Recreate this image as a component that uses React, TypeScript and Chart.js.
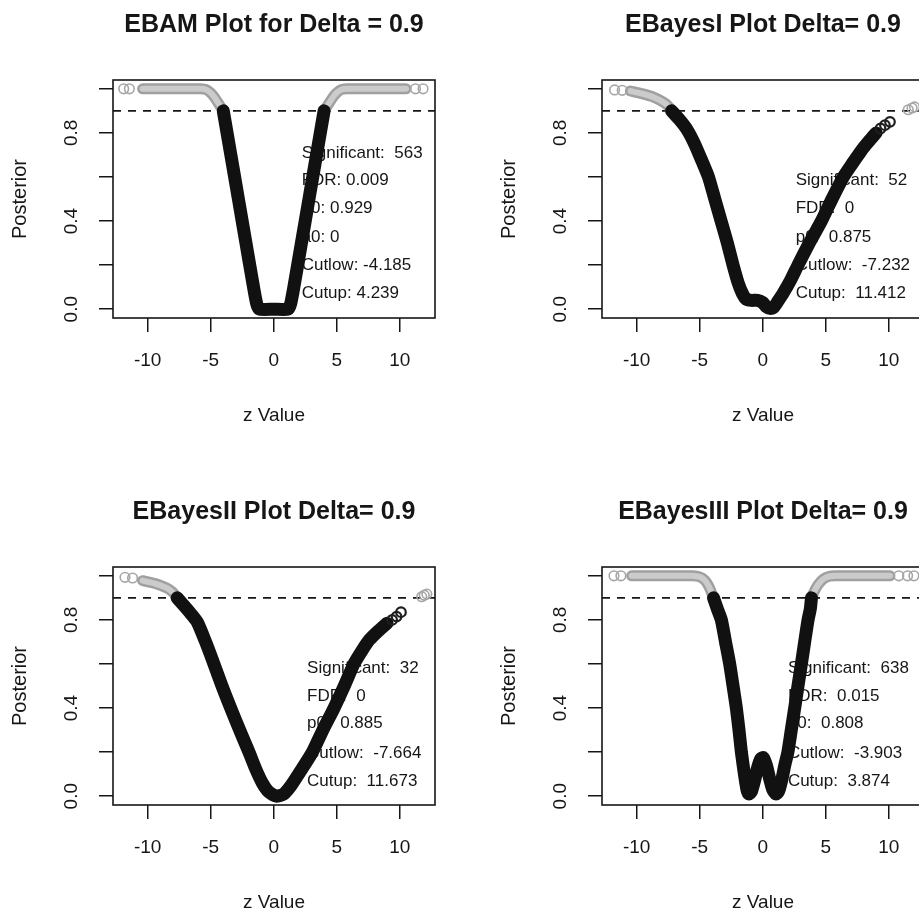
import React, { useEffect, useRef } from "react";
import { Chart, registerables } from "chart.js";

Chart.register(...registerables);

// ---------- shared axis / style constants ----------
const FONT = '"Liberation Sans", Arial, Helvetica, sans-serif';
const INK = "#161616";
const X_MIN = -12.75;
const X_MAX = 12.8;
const Y_MIN = -0.04;
const Y_MAX = 1.04;
const X_TICKS = [-10, -5, 0, 5, 10];
const Y_TICKS = [0, 0.2, 0.4, 0.6, 0.8, 1.0];
const Y_LABELED = [0, 0.4, 0.8];
const DELTA = 0.9;
const X_TITLE = "z Value";
const Y_TITLE = "Posterior";

const PANEL_W = 489;
const PANEL_H = 487;

// ---------- Panel 1: EBAM ----------
const P1_TITLE = "EBAM Plot for Delta = 0.9";
const P1_GRAY_L_Z = [-10.4, -9.0, -7.5, -6.3, -5.8, -5.4, -5.0, -4.7, -4.45, -4.2, -4.0];
const P1_GRAY_L_P = [1.0, 1.0, 1.0, 1.0, 1.0, 0.997, 0.982, 0.962, 0.94, 0.918, 0.9];
const P1_BLACK_Z = [-4.0, -3.4, -2.8, -2.2, -1.6, -1.35, -1.15, 0, 1.15, 1.35, 1.6, 2.2, 2.8, 3.4, 4.0];
const P1_BLACK_P = [0.9, 0.7, 0.5, 0.3, 0.1, 0.025, 0.0, 0.0, 0.0, 0.025, 0.1, 0.3, 0.5, 0.7, 0.9];
const P1_GRAY_R_Z = [4.0, 4.2, 4.45, 4.7, 5.0, 5.4, 5.8, 6.3, 7.5, 9.0, 10.5];
const P1_GRAY_R_P = [0.9, 0.918, 0.94, 0.962, 0.982, 0.997, 1.0, 1.0, 1.0, 1.0, 1.0];
const P1_ISO_GRAY_Z = [-11.9, -11.45, 11.25, 11.85];
const P1_ISO_GRAY_P = [1.0, 1.0, 1.0, 1.0];
const P1_ISO_BLACK_Z: number[] = [];
const P1_ISO_BLACK_P: number[] = [];
const P1_NOTES = ["Significant:  563", "FDR: 0.009", "p0: 0.929", "a0: 0", "Cutlow: -4.185", "Cutup: 4.239"];
const P1_NOTE_P = [0.709, 0.585, 0.458, 0.327, 0.2, 0.073];
const P1_NOTE_Z = 2.22;

// ---------- Panel 2: EBayesI ----------
const P2_TITLE = "EBayesI Plot Delta= 0.9";
const P2_GRAY_L_Z = [-10.5, -9.6, -8.7, -7.9, -7.5, -7.23];
const P2_GRAY_L_P = [0.99, 0.978, 0.963, 0.94, 0.922, 0.9];
const P2_BLACK_Z = [-7.23, -6.6, -6.0, -5.4, -4.8, -4.3, -3.8, -3.3, -2.8, -2.35, -1.95, -1.6, -1.3, -0.9, -0.4, 0.0, 0.3, 0.6, 0.9, 1.2, 1.6, 2.2, 2.8, 3.7, 4.66, 5.5, 6.4, 7.1, 7.83, 8.4, 9.0];
const P2_BLACK_P = [0.9, 0.86, 0.815, 0.75, 0.67, 0.6, 0.5, 0.4, 0.3, 0.2, 0.12, 0.07, 0.045, 0.04, 0.04, 0.03, 0.01, 0.003, 0.01, 0.035, 0.07, 0.13, 0.2, 0.3, 0.4, 0.5, 0.6, 0.66, 0.72, 0.76, 0.8];
const P2_GRAY_R_Z: number[] = [];
const P2_GRAY_R_P: number[] = [];
const P2_ISO_GRAY_Z = [-11.75, -11.15, 11.55, 11.85, 12.05];
const P2_ISO_GRAY_P = [0.995, 0.993, 0.905, 0.913, 0.918];
const P2_ISO_BLACK_Z = [9.35, 9.7, 10.1];
const P2_ISO_BLACK_P = [0.82, 0.835, 0.85];
const P2_NOTES = ["Significant:  52", "FDR:  0", "p0:  0.875", "Cutlow:  -7.232", "Cutup:  11.412"];
const P2_NOTE_P = [0.585, 0.456, 0.328, 0.2, 0.073];
const P2_NOTE_Z = 2.62;

// ---------- Panel 3: EBayesII ----------
const P3_TITLE = "EBayesII Plot Delta= 0.9";
const P3_GRAY_L_Z = [-10.4, -9.4, -8.5, -8.0, -7.66];
const P3_GRAY_L_P = [0.978, 0.965, 0.945, 0.925, 0.9];
const P3_BLACK_Z = [-7.66, -7.2, -6.6, -6.06, -5.4, -4.74, -4.1, -3.41, -2.7, -1.96, -1.4, -0.9, -0.4, 0.2, 0.8, 1.4, 2.2, 3.07, 3.9, 4.79, 5.6, 6.37, 7.0, 7.6, 8.3, 9.0];
const P3_BLACK_P = [0.9, 0.87, 0.83, 0.79, 0.7, 0.6, 0.5, 0.4, 0.3, 0.2, 0.12, 0.06, 0.02, 0.0, 0.01, 0.05, 0.12, 0.2, 0.3, 0.4, 0.5, 0.6, 0.66, 0.71, 0.75, 0.785];
const P3_GRAY_R_Z: number[] = [];
const P3_GRAY_R_P: number[] = [];
const P3_ISO_GRAY_Z = [-11.8, -11.2, 11.75, 11.95, 12.15];
const P3_ISO_GRAY_P = [0.993, 0.99, 0.905, 0.912, 0.917];
const P3_ISO_BLACK_Z = [9.4, 9.75, 10.1];
const P3_ISO_BLACK_P = [0.8, 0.815, 0.835];
const P3_NOTES = ["Significant:  32", "FDR:  0", "p0:  0.885", "Cutlow:  -7.664", "Cutup:  11.673"];
const P3_NOTE_P = [0.582, 0.455, 0.33, 0.196, 0.066];
const P3_NOTE_Z = 2.65;

// ---------- Panel 4: EBayesIII ----------
const P4_TITLE = "EBayesIII Plot Delta= 0.9";
const P4_GRAY_L_Z = [-10.4, -8.5, -6.5, -5.6, -5.0, -4.6, -4.3, -4.1, -3.9];
const P4_GRAY_L_P = [1.0, 1.0, 1.0, 1.0, 0.995, 0.98, 0.955, 0.93, 0.9];
const P4_BLACK_Z = [-3.9, -3.6, -3.28, -2.95, -2.62, -2.35, -2.09, -1.88, -1.69, -1.45, -1.25, -1.1, -0.9, -0.65, -0.4, -0.15, 0.05, 0.3, 0.55, 0.8, 1.05, 1.25, 1.5, 1.75, 2.0, 2.27, 2.54, 2.8, 3.07, 3.33, 3.6, 3.78, 3.87];
const P4_BLACK_P = [0.9, 0.85, 0.8, 0.7, 0.6, 0.5, 0.4, 0.3, 0.2, 0.1, 0.03, 0.01, 0.02, 0.07, 0.13, 0.17, 0.175, 0.14, 0.08, 0.03, 0.01, 0.02, 0.07, 0.14, 0.2, 0.3, 0.4, 0.5, 0.6, 0.7, 0.8, 0.85, 0.9];
const P4_GRAY_R_Z = [3.87, 4.1, 4.4, 4.8, 5.3, 5.8, 7.5, 10.1];
const P4_GRAY_R_P = [0.9, 0.93, 0.96, 0.985, 0.998, 1.0, 1.0, 1.0];
const P4_ISO_GRAY_Z = [-11.8, -11.25, 10.8, 11.5, 12.0];
const P4_ISO_GRAY_P = [1.0, 1.0, 1.0, 1.0, 1.0];
const P4_ISO_BLACK_Z: number[] = [];
const P4_ISO_BLACK_P: number[] = [];
const P4_NOTES = ["Significant:  638", "FDR:  0.015", "p0:  0.808", "Cutlow:  -3.903", "Cutup:  3.874"];
const P4_NOTE_P = [0.582, 0.455, 0.33, 0.196, 0.066];
const P4_NOTE_Z = 2.0;

type Series = { z: number[]; p: number[] };
type PanelCfg = {
  title: string;
  grayL: Series;
  black: Series;
  grayR: Series;
  isoGray: Series;
  isoBlack: Series;
  notes: string[];
  noteP: number[];
  noteZ: number;
};

const PANELS: { cfg: PanelCfg; left: number; top: number }[] = [
  {
    left: 0, top: 0,
    cfg: {
      title: P1_TITLE,
      grayL: { z: P1_GRAY_L_Z, p: P1_GRAY_L_P },
      black: { z: P1_BLACK_Z, p: P1_BLACK_P },
      grayR: { z: P1_GRAY_R_Z, p: P1_GRAY_R_P },
      isoGray: { z: P1_ISO_GRAY_Z, p: P1_ISO_GRAY_P },
      isoBlack: { z: P1_ISO_BLACK_Z, p: P1_ISO_BLACK_P },
      notes: P1_NOTES, noteP: P1_NOTE_P, noteZ: P1_NOTE_Z,
    },
  },
  {
    left: 489, top: 0,
    cfg: {
      title: P2_TITLE,
      grayL: { z: P2_GRAY_L_Z, p: P2_GRAY_L_P },
      black: { z: P2_BLACK_Z, p: P2_BLACK_P },
      grayR: { z: P2_GRAY_R_Z, p: P2_GRAY_R_P },
      isoGray: { z: P2_ISO_GRAY_Z, p: P2_ISO_GRAY_P },
      isoBlack: { z: P2_ISO_BLACK_Z, p: P2_ISO_BLACK_P },
      notes: P2_NOTES, noteP: P2_NOTE_P, noteZ: P2_NOTE_Z,
    },
  },
  {
    left: 0, top: 487,
    cfg: {
      title: P3_TITLE,
      grayL: { z: P3_GRAY_L_Z, p: P3_GRAY_L_P },
      black: { z: P3_BLACK_Z, p: P3_BLACK_P },
      grayR: { z: P3_GRAY_R_Z, p: P3_GRAY_R_P },
      isoGray: { z: P3_ISO_GRAY_Z, p: P3_ISO_GRAY_P },
      isoBlack: { z: P3_ISO_BLACK_Z, p: P3_ISO_BLACK_P },
      notes: P3_NOTES, noteP: P3_NOTE_P, noteZ: P3_NOTE_Z,
    },
  },
  {
    left: 489, top: 487,
    cfg: {
      title: P4_TITLE,
      grayL: { z: P4_GRAY_L_Z, p: P4_GRAY_L_P },
      black: { z: P4_BLACK_Z, p: P4_BLACK_P },
      grayR: { z: P4_GRAY_R_Z, p: P4_GRAY_R_P },
      isoGray: { z: P4_ISO_GRAY_Z, p: P4_ISO_GRAY_P },
      isoBlack: { z: P4_ISO_BLACK_Z, p: P4_ISO_BLACK_P },
      notes: P4_NOTES, noteP: P4_NOTE_P, noteZ: P4_NOTE_Z,
    },
  },
];

const pts = (s: Series) => s.z.map((v, i) => ({ x: v, y: s.p[i] }));

function bandDataset(s: Series, color: string, width: number) {
  return {
    data: pts(s),
    showLine: true,
    borderColor: color,
    borderWidth: width,
    borderCapStyle: "round",
    borderJoinStyle: "round",
    tension: 0.2,
    pointRadius: 0,
    pointHoverRadius: 0,
    clip: 7,
  };
}

function circleDataset(s: Series, color: string, lw: number) {
  return {
    data: pts(s),
    showLine: false,
    pointStyle: "circle",
    pointRadius: 4.8,
    pointHoverRadius: 4.8,
    pointBorderWidth: lw,
    pointBorderColor: color,
    pointBackgroundColor: "rgba(255,255,255,0)",
    clip: 7,
  };
}

function PanelChart({ cfg, left, top }: { cfg: PanelCfg; left: number; top: number }) {
  const ref = useRef<HTMLCanvasElement>(null);

  useEffect(() => {
    const canvas = ref.current;
    if (!canvas) return;

    const overlay = {
      id: "rOverlay",
      beforeDatasetsDraw(chart: any) {
        const { ctx, chartArea: ca, scales } = chart;
        const xs = scales.x;
        const ys = scales.y;
        ctx.save();
        ctx.font = `17px ${FONT}`;
        ctx.fillStyle = INK;
        ctx.textAlign = "left";
        ctx.textBaseline = "middle";
        const nx = xs.getPixelForValue(cfg.noteZ);
        cfg.notes.forEach((t, i) => ctx.fillText(t, nx, ys.getPixelForValue(cfg.noteP[i])));
        ctx.beginPath();
        ctx.rect(ca.left, ca.top, ca.right - ca.left, ca.bottom - ca.top);
        ctx.clip();
        ctx.setLineDash([8, 7]);
        ctx.lineWidth = 1.6;
        ctx.strokeStyle = INK;
        const dy = ys.getPixelForValue(DELTA);
        ctx.beginPath();
        ctx.moveTo(ca.left, dy);
        ctx.lineTo(ca.right, dy);
        ctx.stroke();
        ctx.restore();
      },
      afterDatasetsDraw(chart: any) {
        const { ctx, chartArea: ca } = chart;
        ctx.save();
        ctx.lineWidth = 1.6;
        ctx.strokeStyle = INK;
        ctx.setLineDash([]);
        ctx.strokeRect(ca.left, ca.top, ca.right - ca.left, ca.bottom - ca.top);
        ctx.font = `bold 25px ${FONT}`;
        ctx.fillStyle = INK;
        ctx.textAlign = "center";
        ctx.textBaseline = "alphabetic";
        ctx.fillText(cfg.title, (ca.left + ca.right) / 2, 32);
        ctx.restore();
      },
    };

    const grid = {
      drawOnChartArea: false,
      drawTicks: true,
      tickLength: 14,
      color: INK,
      lineWidth: 1.5,
    };

    const chart = new Chart(canvas, {
      type: "scatter",
      data: {
        datasets: [
          circleDataset(cfg.isoBlack, "#1e1e1e", 2.2),
          bandDataset(cfg.black, "#111111", 13),
          circleDataset(cfg.isoGray, "#a6a6a6", 1.6),
          bandDataset(cfg.grayL, "#cbcbcb", 6),
          bandDataset(cfg.grayR, "#cbcbcb", 6),
          bandDataset(cfg.grayL, "#a0a0a0", 11),
          bandDataset(cfg.grayR, "#a0a0a0", 11),
        ] as any,
      },
      options: {
        responsive: false,
        animation: false,
        devicePixelRatio: 1,
        events: [],
        layout: { padding: { left: 0, right: 54, top: 80, bottom: 0 }, autoPadding: false } as any,
        plugins: {
          legend: { display: false },
          title: { display: false },
          tooltip: { enabled: false },
        },
        scales: {
          x: {
            type: "linear",
            min: X_MIN,
            max: X_MAX,
            afterBuildTicks: (s: any) => {
              s.ticks = X_TICKS.map((v) => ({ value: v }));
            },
            afterFit: (s: any) => {
              s.height = 169;
            },
            ticks: {
              autoSkip: false,
              minRotation: 0,
              maxRotation: 0,
              padding: 17,
              color: INK,
              font: { size: 19, family: FONT },
              callback: (v: any) => String(v),
            },
            grid,
            border: { display: false },
            title: {
              display: true,
              text: X_TITLE,
              color: INK,
              font: { size: 19, family: FONT },
              padding: { top: 0, bottom: 60 },
            },
          },
          y: {
            type: "linear",
            min: Y_MIN,
            max: Y_MAX,
            afterBuildTicks: (s: any) => {
              s.ticks = Y_TICKS.map((v) => ({ value: v }));
            },
            afterFit: (s: any) => {
              s.width = 113;
            },
            ticks: {
              autoSkip: false,
              minRotation: 90,
              maxRotation: 90,
              crossAlign: "center",
              padding: 14,
              color: INK,
              font: { size: 19, family: FONT },
              callback: (v: any) => (Y_LABELED.includes(v) ? Number(v).toFixed(1) : ""),
            },
            grid,
            border: { display: false },
            title: {
              display: true,
              text: Y_TITLE,
              color: INK,
              font: { size: 20, family: FONT },
              padding: { top: 8, bottom: 0 },
            },
          },
        },
      } as any,
      plugins: [overlay],
    });

    return () => chart.destroy();
  }, [cfg]);

  return (
    <canvas
      ref={ref}
      width={PANEL_W}
      height={PANEL_H}
      style={{ position: "absolute", left, top, width: PANEL_W, height: PANEL_H, display: "block" }}
    />
  );
}

export default function App() {
  return (
    <div
      style={{
        position: "fixed",
        left: 0,
        top: 0,
        width: 919,
        height: 913,
        overflow: "hidden",
        background: "#ffffff",
      }}
    >
      {PANELS.map((p, i) => (
        <PanelChart key={i} cfg={p.cfg} left={p.left} top={p.top} />
      ))}
    </div>
  );
}
